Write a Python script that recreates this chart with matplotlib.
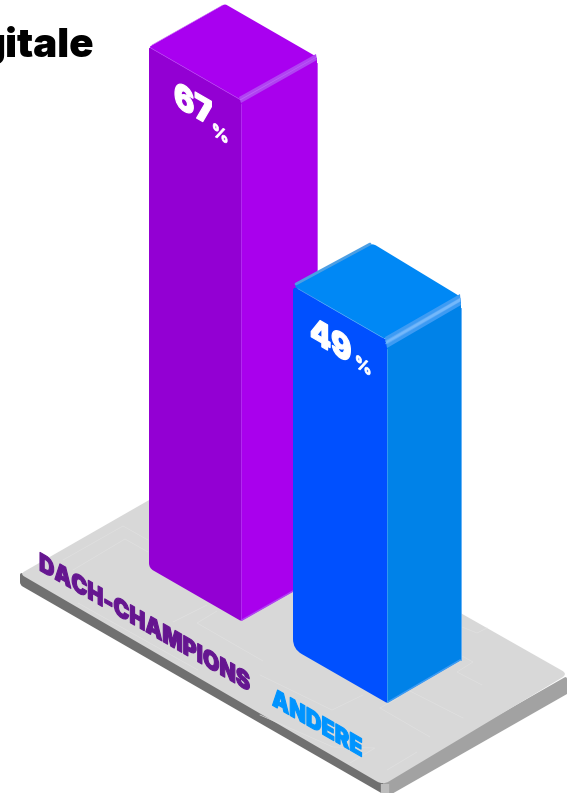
import matplotlib
matplotlib.use('Agg')
import matplotlib.pyplot as plt
import numpy as np
from matplotlib.patches import PathPatch
from matplotlib.path import Path
from matplotlib.patheffects import AbstractPathEffect
from matplotlib.transforms import Affine2D

categories = ['DACH-CHAMPIONS', 'ANDERE']
values = [67, 49]
value_labels = ['67', '49']

W, H = 571, 793
UNITS = 8.78      # pixels per percentage point
ZERO = 7.66       # value at which a bar has no height


class IsoShear(AbstractPathEffect):
    """Lays text flat on the isometric left face, uprights stay vertical."""

    def __init__(self, stretch=1.0, stroke=0.0):
        super().__init__()
        self.stretch = stretch
        self.stroke = stroke

    def draw_path(self, renderer, gc, tpath, affine, rgbFace=None):
        m = affine.get_matrix().copy()
        c, s = np.cos(np.radians(30)), np.sin(np.radians(30))
        shear = np.array([[c * self.stretch, 0], [-s * self.stretch, 1]])
        m[:2, :2] = shear @ m[:2, :2]
        gc0 = renderer.new_gc()
        gc0.copy_properties(gc)
        gc0.set_linewidth(self.stroke)
        gc0.set_foreground(rgbFace)
        renderer.draw_path(gc0, tpath, Affine2D(m), rgbFace)
        gc0.restore()


def rounded(points, radii):
    # closed polygon with quadratic rounded corners
    pts = [np.array(p, dtype=float) for p in points]
    n = len(pts)
    verts, codes = [], []
    for i in range(n):
        p, prev, nxt = pts[i], pts[i - 1], pts[(i + 1) % n]
        r = radii[i]
        a = p + (prev - p) / np.linalg.norm(prev - p) * r
        b = p + (nxt - p) / np.linalg.norm(nxt - p) * r
        verts += [a, p, b]
        codes += [Path.LINETO, Path.CURVE3, Path.CURVE3]
    codes[0] = Path.MOVETO
    verts.append(verts[0])
    codes.append(Path.CLOSEPOLY)
    return Path(verts, codes)


def poly(ax, points, color, radii=None, z=1):
    radii = radii if radii is not None else [0] * len(points)
    radii = [max(r, 0.01) for r in radii]
    ax.add_patch(PathPatch(rounded(points, radii), facecolor=color,
                           edgecolor='none', lw=0, zorder=z))


def draw_bar(ax, value, front, left, right, colors, bevel, r_top, r_foot, z, lid_shift=0):
    fx, fy = front
    lx, ly = left
    rx, ry = right
    top = fy - (value - ZERO) * UNITS

    # side faces
    poly(ax, [(fx, fy), (fx - lx, fy - ly), (fx - lx, top - ly), (fx, top)],
         colors[0], [1, r_foot, r_top, 0], z)
    poly(ax, [(fx, fy), (fx, top), (fx + rx, top - ry), (fx + rx, fy - ry)],
         colors[1], [1, 0, r_top, 0], z)
    # lid
    apex = (fx - lx + rx + lid_shift, top - ly - ry)
    poly(ax, [(fx, top), (fx - lx, top - ly), apex, (fx + rx, top - ry)],
         colors[2], [r_top, r_top, r_top, r_top], z + 0.1)
    # rounded edge between lid and right face, brightest along its middle
    depth, shades = bevel
    for k, shade in enumerate(shades):
        a = depth * k / len(shades)
        b = depth * (1 - k / len(shades))
        poly(ax, [(fx - 2, top - 3 + a), (fx + rx - 1, top - ry - 3 + a),
                  (fx + rx, top - ry - 3 + b), (fx, top - 3 + b)],
             shade, None, z + 0.2 + k * 0.01)
    ax.plot([fx + 1, fx + rx - 1], [fy - 1, fy - ry], color=shades[0], lw=1.1, zorder=z + 0.2)
    ax.plot([fx, fx], [top + depth - 2, fy - 2], color=colors[3], lw=0.5, zorder=z + 0.2)
    ax.plot([fx - lx + r_top, fx - r_top], [top - ly + r_top * 0.55, top - r_top * 0.55],
            color=colors[3], lw=0.5, zorder=z + 0.2)
    ax.plot([fx + rx, fx + rx], [top - ry + depth, fy - ry], color=colors[3], lw=0.6, zorder=z + 0.2)
    # thin rim on the back left of the lid
    ax.plot([fx - lx + 3, apex[0] - 2], [top - ly - 2, apex[1] + 1], color=colors[4],
            lw=colors[5], zorder=z + 0.3, solid_capstyle='round')


fig = plt.figure(figsize=(W / 100, H / 100), dpi=100)
ax = fig.add_axes([0, 0, 1, 1])
ax.set_xlim(0, W)
ax.set_ylim(H, 0)
ax.axis('off')

# base plate: sides first, top surface over them
poly(ax, [(20, 572), (383, 781), (383, 794), (20, 585)], '#707070', [3, 0, 0, 3], 0.5)
poly(ax, [(383, 781), (567, 676), (567, 694), (383, 799)], '#a2a2a2', [0, 3, 0, 0], 0.5)
ax.plot([385, 385], [784, 794], color='#bdbdbd', lw=6, zorder=0.6, solid_capstyle='butt')
poly(ax, [(20, 574), (205, 468), (568, 674), (383, 785)], '#d8d8d8', [5, 5, 7, 7], 0.7)

# faint outlines engraved in the plate
plate_lines = [
    [(63, 560), (123, 526), (148, 540)],
    [(73, 570), (125, 539), (148, 552)],
    [(78, 603), (198, 670)],
    [(173, 622), (207, 605)],
    [(217, 611), (197, 623), (263, 661)],
    [(260, 675), (332, 710), (363, 695)],
    [(380, 708), (398, 698)],
    [(380, 708), (430, 737)],
    [(408, 690), (463, 718)],
    [(460, 655), (473, 662), (457, 672), (482, 685)],
    [(462, 627), (477, 633), (487, 628)],
    [(260, 715), (333, 747), (375, 748), (350, 763)],
    [(387, 770), (417, 752)],
]
for line in plate_lines:
    xs, ys = zip(*line)
    ax.plot(xs, ys, color='#e0e0e0', lw=0.5, zorder=0.8)

draw_bar(ax, values[0], (241, 621), (92, 53), (76, 43),
         ['#9300d3', '#a900ed', '#a900f0', '#b53cf0', '#b53cf0', 0.3],
         (6, ['#b043f2', '#bb62f6']), 2, 5, 2)
draw_bar(ax, values[1], (387, 703), (94, 54), (74, 43),
         ['#0050ff', '#0082e8', '#0088f5', '#4aa3f5', '#4c9fe4', 2.0],
         (11, ['#3d9bf3', '#5aa9f8', '#73b8fb']), 5, 10, 3, lid_shift=5)

# title fragment cut by the left edge
ax.text(94, 57, 'gitale', ha='right', va='baseline', fontsize=29, fontweight='black',
        family=['Inter', 'DejaVu Sans'], color='#000000', zorder=5)

# values on the left faces
bold = dict(family=['Inter', 'DejaVu Sans'], fontweight='black', color='white', zorder=6)
ax.text(174, 105, value_labels[0], fontsize=25,
        path_effects=[IsoShear(1.0, 0.9)], **bold)
ax.text(212, 135, '%', fontsize=13, path_effects=[IsoShear(1.0, 0.5)], **bold)
ax.text(310, 340, value_labels[1], fontsize=25,
        path_effects=[IsoShear(1.0, 0.9)], **bold)
ax.text(355, 367, '%', fontsize=13, path_effects=[IsoShear(1.0, 0.5)], **bold)

# category names lying on the plate
ax.text(39, 570, categories[0], fontsize=18, family=['Inter', 'DejaVu Sans'], fontweight='black',
        color='#651690', path_effects=[IsoShear(0.985, 0.8)], zorder=6)
ax.text(272, 705, categories[1], fontsize=18, family=['Inter', 'DejaVu Sans'], fontweight='black',
        color='#0094ff', path_effects=[IsoShear(1.0, 0.8)], zorder=6)

fig.savefig('out.png', dpi=100)
